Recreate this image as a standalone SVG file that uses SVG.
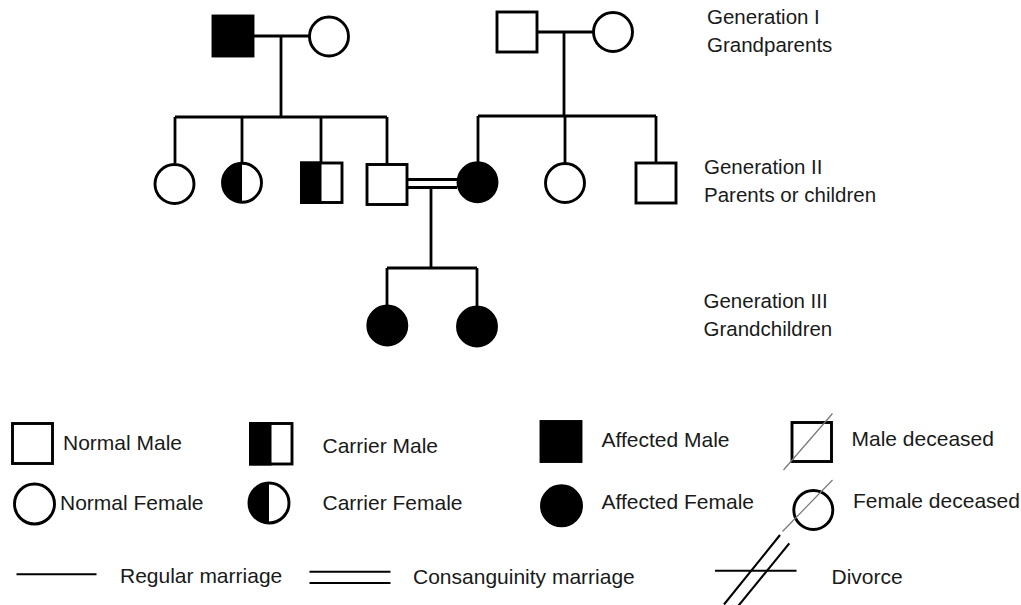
<svg xmlns="http://www.w3.org/2000/svg" width="1021" height="605" viewBox="0 0 1021 605">
  <style>
    .node { fill: #fff; stroke: #000; stroke-width: 2.9; }
    .fill { fill: #000; stroke: #000; stroke-width: 2.9; }
    .half { fill: #000; stroke: none; }
    .link { fill: none; stroke: #000; stroke-width: 2.8; }
    .thin { fill: none; stroke: #000; stroke-width: 2.1; }
    .dead { fill: none; stroke: #777; stroke-width: 1.2; }
    .gen { font-family: "Liberation Sans", Arial, sans-serif; font-size: 20.5px; fill: #1a1a1a; }
    .lbl { font-family: "Liberation Sans", Arial, sans-serif; font-size: 21px; fill: #1a1a1a; }
  </style>

  <!-- connectors -->
  <g id="connectors">
    <!-- left grandparents and their children -->
    <path class="link" d="M253 36 H309 M281 36 V117 M175 117 H387 M175 117 V163 M242 117 V162 M321 117 V163 M387 117 V164"/>
    <!-- right grandparents and their children -->
    <path class="link" d="M537 32 H593 M564 32 V116 M478 116 H656 M478 116 V162 M565 116 V163 M656 116 V163"/>
    <!-- consanguineous couple -->
    <path class="link" d="M407 179.5 H457 M407 187.5 H457"/>
    <!-- their children -->
    <path class="link" d="M431 187.5 V268 M387 268 H477 M387 268 V306 M477 268 V307"/>
  </g>

  <!-- generation I -->
  <g id="gp1-male"><rect class="fill" x="213" y="16" width="40" height="40"/></g>
  <g id="gp1-female"><circle class="node" cx="329" cy="36.5" r="19.5"/></g>
  <g id="gp2-male"><rect class="node" x="497" y="12" width="40" height="40"/></g>
  <g id="gp2-female"><circle class="node" cx="613" cy="32" r="19.5"/></g>

  <!-- generation II -->
  <g id="c1-female"><circle class="node" cx="174.5" cy="184" r="19.5"/></g>
  <g id="c2-carrier-female">
    <circle class="node" cx="242" cy="182.8" r="19.5"/>
    <path class="half" d="M242 163.3 A19.5 19.5 0 0 0 242 202.3 Z"/>
  </g>
  <g id="c3-carrier-male">
    <rect class="node" x="301.5" y="163" width="40.5" height="39.5"/>
    <rect class="half" x="300" y="161.5" width="21.5" height="42.5"/>
  </g>
  <g id="c4-male"><rect class="node" x="367" y="164.5" width="40" height="40"/></g>
  <g id="c5-affected-female"><circle class="fill" cx="477.5" cy="182.3" r="19.5"/></g>
  <g id="c6-female"><circle class="node" cx="565" cy="183" r="19.5"/></g>
  <g id="c7-male"><rect class="node" x="636" y="163" width="40" height="40"/></g>

  <!-- generation III -->
  <g id="g1-affected-female"><circle class="fill" cx="387.3" cy="325.5" r="19.5"/></g>
  <g id="g2-affected-female"><circle class="fill" cx="477" cy="326.5" r="19.5"/></g>

  <!-- generation labels -->
  <g id="labels">
    <text class="gen" x="707" y="24">Generation I</text>
    <text class="gen" x="707" y="52">Grandparents</text>
    <text class="gen" x="704" y="174">Generation II</text>
    <text class="gen" x="704" y="202">Parents or children</text>
    <text class="gen" x="703.5" y="308">Generation III</text>
    <text class="gen" x="703.5" y="336">Grandchildren</text>
  </g>

  <!-- legend -->
  <g id="legend">
    <g id="key-normal-male">
      <rect class="node" x="12.5" y="423.5" width="40" height="40"/>
      <text class="lbl" x="63" y="450">Normal Male</text>
    </g>
    <g id="key-normal-female">
      <circle class="node" cx="34.5" cy="504" r="20"/>
      <text class="lbl" x="60" y="510">Normal Female</text>
    </g>
    <g id="key-carrier-male">
      <rect class="node" x="250.5" y="423.5" width="41.5" height="40.5"/>
      <rect class="half" x="249" y="422" width="22.5" height="43.5"/>
      <text class="lbl" x="322.5" y="453">Carrier Male</text>
    </g>
    <g id="key-carrier-female">
      <circle class="node" cx="269" cy="503" r="20"/>
      <path class="half" d="M269 483 A20 20 0 0 0 269 523 Z"/>
      <text class="lbl" x="322.5" y="510">Carrier Female</text>
    </g>
    <g id="key-affected-male">
      <rect class="fill" x="541" y="421.5" width="40" height="40"/>
      <text class="lbl" x="601.5" y="447">Affected Male</text>
    </g>
    <g id="key-affected-female">
      <circle class="fill" cx="561.5" cy="505.8" r="20"/>
      <text class="lbl" x="601.5" y="508.5">Affected Female</text>
    </g>
    <g id="key-male-deceased">
      <rect class="node" x="792" y="422.5" width="39.5" height="39"/>
      <line class="dead" x1="783.5" y1="470" x2="832.5" y2="413.5"/>
      <text class="lbl" x="851.5" y="446">Male deceased</text>
    </g>
    <g id="key-female-deceased">
      <circle class="node" cx="813.3" cy="510" r="19.5"/>
      <line class="dead" x1="782.5" y1="531.5" x2="832.5" y2="480"/>
      <text class="lbl" x="853" y="507.5">Female deceased</text>
    </g>
    <g id="key-regular-marriage">
      <line class="thin" x1="16.5" y1="574.3" x2="96.5" y2="574.3"/>
      <text class="lbl" x="120" y="582.5">Regular marriage</text>
    </g>
    <g id="key-consanguinity">
      <line class="thin" x1="309.5" y1="571.8" x2="390.5" y2="571.8"/>
      <line class="thin" x1="309.5" y1="583" x2="390.5" y2="583"/>
      <text class="lbl" x="413" y="583.5">Consanguinity marriage</text>
    </g>
    <g id="key-divorce">
      <line class="thin" x1="715" y1="570.7" x2="796.5" y2="570.7"/>
      <line class="thin" x1="724" y1="604.5" x2="780" y2="535"/>
      <line class="thin" x1="733.3" y1="612" x2="789.3" y2="543.3"/>
      <text class="lbl" x="831.5" y="583.5">Divorce</text>
    </g>
  </g>
</svg>
